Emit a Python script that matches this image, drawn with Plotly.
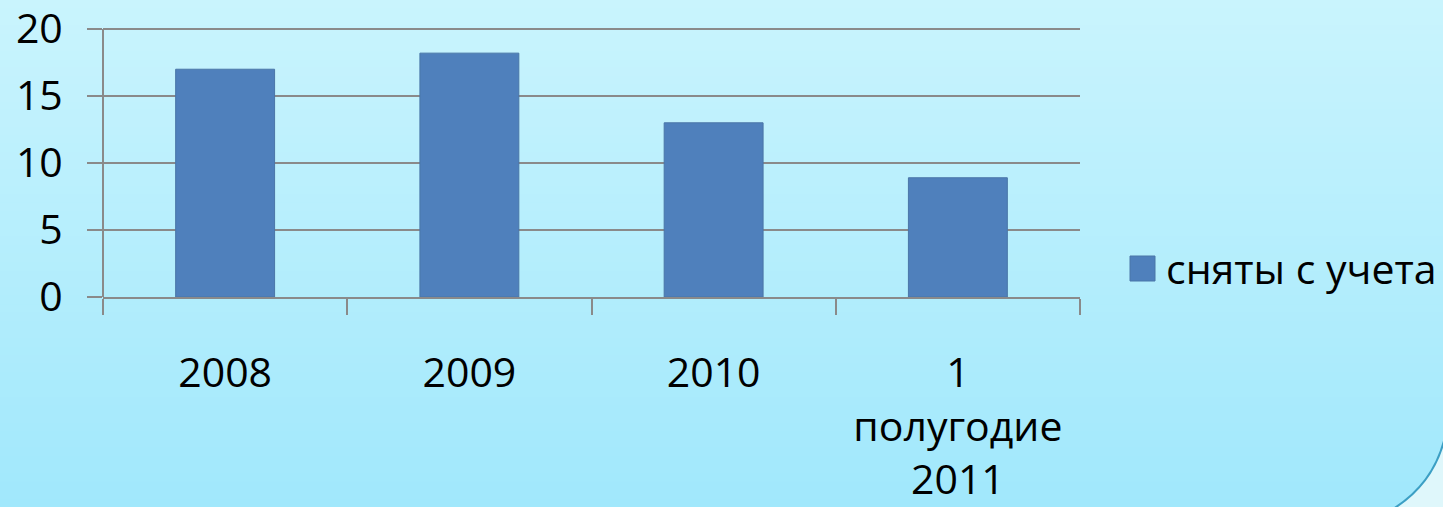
import plotly.graph_objects as go

categories = ["2008", "2009", "2010", "1<br>полугодие<br>2011"]
values = [17, 18.2, 13, 8.9]
series_name = "сняты с учета"
y_ticks = [0, 5, 10, 15, 20]

W, H = 1443, 507
Y_TOP = 20.3
ML, MR, MB = 103, 363, 210
MT = round(H - MB - 268 * Y_TOP / 20)
PW, PH = W - ML - MR, H - MT - MB

def px_x(p):
    return (p - ML) / PW

def px_y(p):
    return (H - MB - p) / PH

FONT = "Open Sans"
FS = 41
BAR = "#4f80bc"
GRID = "#8a8a8a"

fig = go.Figure()
fig.add_trace(go.Bar(
    x=categories, y=values, name=series_name,
    marker=dict(color=BAR, line=dict(color="#4a76a8", width=1)),
    showlegend=False, hoverinfo="skip",
))

shapes = []
# background gradient
n = 60
top = (201, 244, 253)
bot = (161, 232, 252)
for i in range(n):
    t = i / (n - 1)
    c = tuple(round(top[k] + (bot[k] - top[k]) * t) for k in range(3))
    shapes.append(dict(type="rect", xref="paper", yref="paper",
                       x0=px_x(-2), x1=px_x(W + 2),
                       y0=px_y(H * (i + 1) / n + 1), y1=px_y(H * i / n - 1 if i == 0 else H * i / n),
                       fillcolor="rgb(%d,%d,%d)" % c, line=dict(width=0),
                       layer="below"))

# page-curl corner at bottom right
def pt(x, y):
    return "%.5f,%.5f" % (px_x(x), px_y(y))

curl = ("M " + pt(1444, 441) + " Q " + pt(1432, 485) + " " + pt(1393, 509)
        + " L " + pt(1445, 509) + " Z")
shapes.append(dict(type="path", xref="paper", yref="paper", path=curl,
                   fillcolor="#dff7fb", line=dict(color="#3c9fc4", width=2),
                   layer="above"))

# custom legend square
shapes.append(dict(type="rect", xref="paper", yref="paper",
                   x0=px_x(1130), x1=px_x(1155), y0=px_y(281), y1=px_y(256),
                   fillcolor=BAR, line=dict(color="#4a76a8", width=1)))

# y axis line from 0 to 20 only
shapes.append(dict(type="line", xref="paper", yref="y", x0=0, x1=0,
                   y0=0, y1=20, line=dict(color=GRID, width=2)))

fig.update_layout(
    width=W, height=H,
    margin=dict(l=ML, r=MR, t=MT, b=MB, pad=0, autoexpand=False),
    paper_bgcolor="rgb(161,232,252)",
    plot_bgcolor="rgba(0,0,0,0)",
    bargap=0.595,
    font=dict(family=FONT, size=FS, color="#000000"),
    shapes=shapes,
    annotations=[dict(text=series_name, xref="paper", yref="paper",
                      x=px_x(1164), y=px_y(268), xanchor="left",
                      yanchor="middle", showarrow=False,
                      font=dict(family=FONT, size=FS, color="#000000"))],
    xaxis=dict(
        type="category", automargin=False,
        showline=True, linecolor=GRID, linewidth=2,
        ticks="outside", tickson="boundaries", ticklen=16,
        tickcolor=GRID, tickwidth=2,
        showgrid=False, zeroline=False,
        ticklabelstandoff=39, ticklabeloverflow="allow",
        tickfont=dict(family=FONT, size=FS),
    ),
    yaxis=dict(
        range=[0, Y_TOP], tickvals=y_ticks, automargin=False,
        showline=False,
        ticks="outside", ticklen=15, tickcolor=GRID, tickwidth=2,
        showgrid=True, gridcolor=GRID, gridwidth=2,
        zeroline=False,
        ticklabelstandoff=16, ticklabeloverflow="allow",
        tickfont=dict(family=FONT, size=FS),
    ),
)

fig.write_html(
    "out.html",
    config={"displayModeBar": False},
    post_script="document.body.style.margin='0';document.body.style.overflow='hidden';",
)
